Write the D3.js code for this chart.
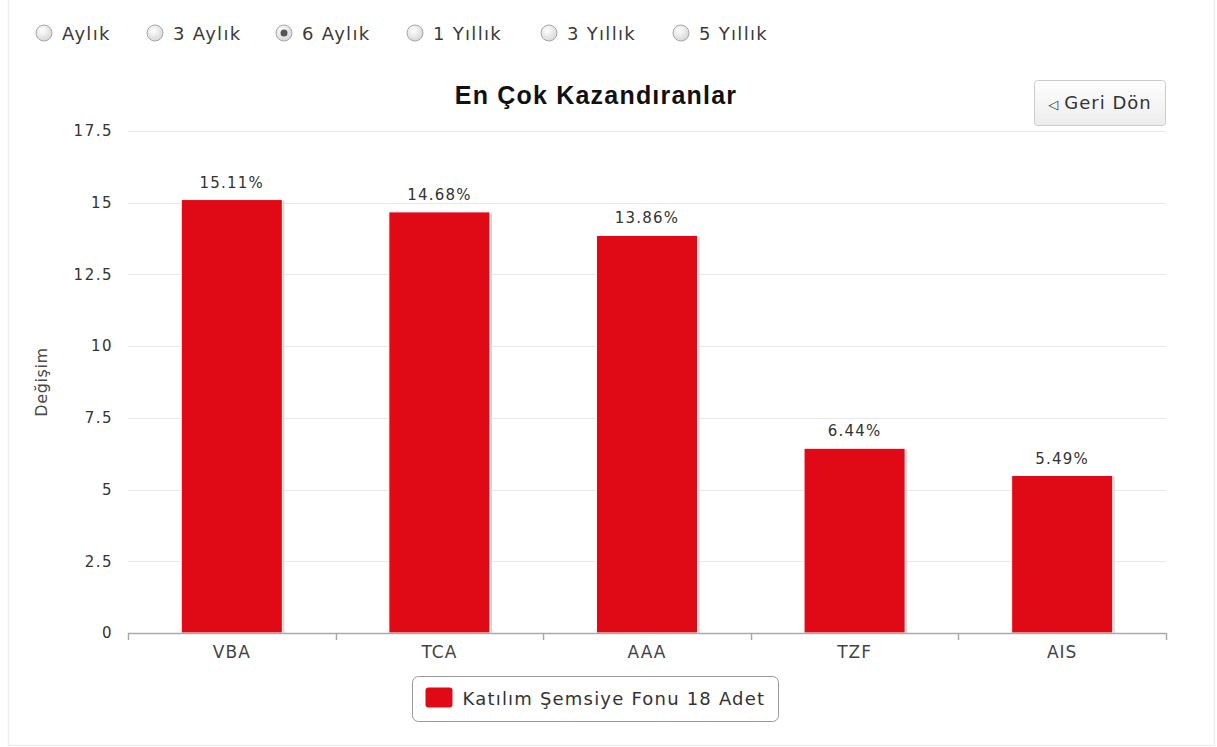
<!DOCTYPE html>
<html>
<head>
<meta charset="utf-8">
<script src="https://cdn.jsdelivr.net/npm/d3@7"></script>
<style>
  body { margin: 0; background: #ffffff; }
  svg { display: block; }
</style>
</head>
<body>
<div id="chart"></div>
<script>
// data
var funds = ["VBA", "TCA", "AAA", "TZF", "AIS"];
var changes = [15.11, 14.68, 13.86, 6.44, 5.49];
var yTicks = [0, 2.5, 5, 7.5, 10, 12.5, 15, 17.5];
var periods = ["Aylık", "3 Aylık", "6 Aylık", "1 Yıllık", "3 Yıllık", "5 Yıllık"];
var selectedPeriod = "6 Aylık";
var legendLabel = "Katılım Şemsiye Fonu 18 Adet";

var W = 1217, H = 747;
var margin = { top: 131, bottom: 114, left: 128, right: 51 };
var width = W - margin.left - margin.right;
var height = H - margin.top - margin.bottom;
var barColor = "#e00916";
var textFont = "'DejaVu Sans', Verdana, sans-serif";

var svg = d3.select("#chart").append("svg")
  .attr("width", W).attr("height", H);

var defs = svg.append("defs");
var radioGrad = defs.append("radialGradient").attr("id", "radioGrad")
  .attr("cx", "40%").attr("cy", "35%").attr("r", "70%");
radioGrad.append("stop").attr("offset", "0%").attr("stop-color", "#ffffff");
radioGrad.append("stop").attr("offset", "100%").attr("stop-color", "#d4d4d4");
var btnGrad = defs.append("linearGradient").attr("id", "btnGrad")
  .attr("x1", 0).attr("y1", 0).attr("x2", 0).attr("y2", 1);
btnGrad.append("stop").attr("offset", "0%").attr("stop-color", "#ffffff");
btnGrad.append("stop").attr("offset", "100%").attr("stop-color", "#ececec");

// container border
svg.append("path")
  .attr("d", "M8.5,0 V745.5 H1214.5 V0")
  .style("fill", "none").style("stroke", "#eeeeee").style("stroke-width", 1.5);

// period radio buttons
var radioX = [44, 155, 284, 415, 549, 681];
var radios = svg.append("g").selectAll("g")
  .data(periods).enter().append("g")
  .attr("transform", function (d, i) { return "translate(" + radioX[i] + ",33)"; });
radios.append("circle").attr("r", 8)
  .style("fill", "url(#radioGrad)").style("stroke", "#a8a8a8").style("stroke-width", 1);
radios.filter(function (d) { return d === selectedPeriod; })
  .append("circle").attr("r", 3.5).style("fill", "#555555");
radios.append("text")
  .attr("x", 18).attr("y", 7)
  .style("font-family", textFont)
  .style("font-size", "18px").style("letter-spacing", "1.3px").style("fill", "#3a3a3a")
  .text(function (d) { return d; });

var g = svg.append("g")
  .attr("transform", "translate(" + margin.left + "," + margin.top + ")");

var x = d3.scaleBand().domain(funds).range([0, width]).paddingInner(0).paddingOuter(0);
var y = d3.scaleLinear().domain([0, 17.5]).range([height, 0]);

// grid
g.append("g").selectAll("line")
  .data(yTicks.filter(function (d) { return d > 0; })).enter().append("line")
  .attr("x1", 0).attr("x2", width)
  .attr("y1", function (d) { return Math.round(y(d)) + 0.5; })
  .attr("y2", function (d) { return Math.round(y(d)) + 0.5; })
  .style("stroke", "#e8e8e8").style("stroke-width", 1);

// y axis labels
var yAxis = d3.axisLeft(y).tickValues(yTicks).tickSize(0).tickPadding(15)
  .tickFormat(function (d) { return String(d); });
var yg = g.append("g").call(yAxis);
yg.select(".domain").remove();
yg.selectAll("text")
  .style("font-family", textFont).style("font-size", "15px")
  .style("letter-spacing", "1.5px").style("fill", "#333333");

// y axis title
g.append("text")
  .attr("transform", "translate(" + (47 - margin.left) + "," + (382 - margin.top) + ") rotate(-90)")
  .attr("text-anchor", "middle")
  .style("font-family", textFont).style("font-size", "16px")
  .style("letter-spacing", "0.6px").style("fill", "#4a4a4a")
  .text("Değişim");

// x axis
var xAxis = d3.axisBottom(x).tickSize(0).tickPadding(13);
var xg = g.append("g").attr("transform", "translate(0," + height + ")").call(xAxis);
xg.select(".domain").remove();
xg.selectAll("text")
  .style("font-family", textFont).style("font-size", "17px")
  .style("letter-spacing", "1px").style("fill", "#444444");
var edges = funds.map(function (d) { return x(d); }).concat([width]);
xg.selectAll("line.edge").data(edges).enter().append("line")
  .attr("class", "edge")
  .attr("x1", function (d) { return Math.round(d) + 0.5; })
  .attr("x2", function (d) { return Math.round(d) + 0.5; })
  .attr("y1", 0).attr("y2", 7)
  .style("stroke", "#aaaaaa").style("stroke-width", 1.5);

// bars
var barW = x.bandwidth() * 0.487;
var bars = g.append("g").selectAll("g")
  .data(funds).enter().append("g");
bars.append("rect")
  .attr("x", function (d) { return x(d) + (x.bandwidth() - barW) / 2 + 2; })
  .attr("y", function (d, i) { return y(changes[i]) + 1; })
  .attr("width", barW)
  .attr("height", function (d, i) { return height - y(changes[i]) - 1; })
  .style("fill", "#d6d6d6");
bars.append("rect")
  .attr("x", function (d) { return x(d) + (x.bandwidth() - barW) / 2; })
  .attr("y", function (d, i) { return y(changes[i]); })
  .attr("width", barW)
  .attr("height", function (d, i) { return height - y(changes[i]); })
  .style("fill", barColor).style("stroke", "#ffffff").style("stroke-width", 1);

// x axis line on top of bars
g.append("line")
  .attr("x1", 0).attr("x2", width)
  .attr("y1", height + 0.5).attr("y2", height + 0.5)
  .style("stroke", "#aaaaaa").style("stroke-width", 1.5);

// data labels
bars.append("text")
  .attr("x", function (d) { return x(d) + x.bandwidth() / 2; })
  .attr("y", function (d, i) { return y(changes[i]) - 12; })
  .attr("text-anchor", "middle")
  .style("font-family", textFont).style("font-size", "15px")
  .style("letter-spacing", "1.2px").style("fill", "#333333")
  .text(function (d, i) { return changes[i].toFixed(2) + "%"; });

// title
svg.append("text")
  .attr("x", 596).attr("y", 104)
  .attr("text-anchor", "middle")
  .style("font-family", "'Liberation Sans', Arial, sans-serif")
  .style("font-weight", "bold").style("font-size", "25px")
  .style("letter-spacing", "1.2px").style("fill", "#111111")
  .text("En Çok Kazandıranlar");

// back button
var btn = svg.append("g").attr("transform", "translate(1034.5,80.5)");
btn.append("rect").attr("width", 131).attr("height", 45).attr("rx", 3)
  .style("fill", "url(#btnGrad)").style("stroke", "#cccccc");
var btnText = btn.append("text").attr("x", 65.5).attr("y", 28)
  .attr("text-anchor", "middle")
  .style("font-family", textFont).style("font-size", "18px")
  .style("letter-spacing", "1px").style("fill", "#333333");
btnText.append("tspan").style("font-size", "13px").text("◁ ");
btnText.append("tspan").text("Geri Dön");

// legend
var leg = svg.append("g").attr("transform", "translate(412.5,676.5)");
leg.append("rect").attr("width", 366).attr("height", 45).attr("rx", 6)
  .style("fill", "#ffffff").style("stroke", "#999999");
leg.append("rect").attr("x", 13).attr("y", 11).attr("width", 27).attr("height", 20).attr("rx", 3)
  .style("fill", barColor);
leg.append("text").attr("x", 50).attr("y", 28)
  .style("font-family", textFont).style("font-size", "18px")
  .style("letter-spacing", "1.2px").style("fill", "#333333")
  .text(legendLabel);
</script>
</body>
</html>
